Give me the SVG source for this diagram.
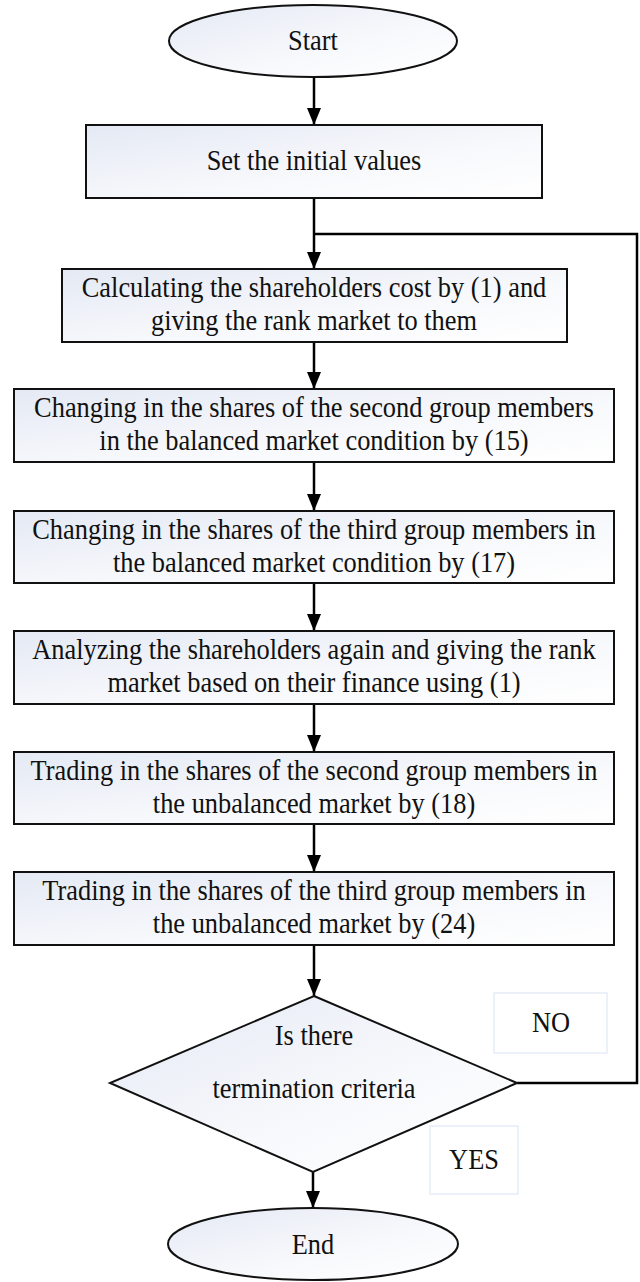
<svg xmlns="http://www.w3.org/2000/svg" width="640" height="1282" viewBox="0 0 640 1282">
  <style>
    .shape { fill: url(#shade); stroke: #111; stroke-width: 2; }
    .label { fill: #fff; stroke: #e6edf8; stroke-width: 1.5; }
    .txt { font-family: "Liberation Serif", "Times New Roman", serif; font-size: 29px; fill: #111; text-anchor: middle; }
    .wire { fill: none; stroke: #000; stroke-width: 2.5; }
    .wire.arrow { marker-end: url(#head); }
  </style>
  <defs>
    <linearGradient id="shade" x1="0" y1="0" x2="1" y2="1">
      <stop offset="0" stop-color="#e4e9f4"/>
      <stop offset="0.6" stop-color="#f8f9fc"/>
      <stop offset="1" stop-color="#ffffff"/>
    </linearGradient>
    <marker id="head" viewBox="0 -7 17 14" refX="17" refY="0" markerWidth="17" markerHeight="14" markerUnits="userSpaceOnUse" orient="auto">
      <path d="M0,-7 L17,0 L0,7 z" fill="#000"/>
    </marker>
  </defs>

  <rect width="640" height="1282" fill="#fff"/>

  <!-- connectors -->
  <g id="connectors">
    <line class="wire arrow" x1="314" y1="77" x2="314" y2="125"/>
    <line class="wire arrow" x1="314" y1="198" x2="314" y2="269"/>
    <line class="wire arrow" x1="314" y1="342" x2="314" y2="389"/>
    <line class="wire arrow" x1="314" y1="462" x2="314" y2="511"/>
    <line class="wire arrow" x1="314" y1="583" x2="314" y2="631"/>
    <line class="wire arrow" x1="314" y1="704" x2="314" y2="752"/>
    <line class="wire arrow" x1="314" y1="824" x2="314" y2="872"/>
    <line class="wire arrow" x1="314" y1="945" x2="314" y2="996"/>
    <line class="wire arrow" x1="313" y1="1172" x2="313" y2="1208"/>
    <!-- NO branch loops back above the cost step -->
    <polyline class="wire" points="517,1083 637,1083 637,234 314,234"/>
  </g>

  <!-- text is set in a slightly condensed serif: scale(0.91 1) -->
  <g id="start">
    <ellipse class="shape" cx="313" cy="41" rx="144" ry="36"/>
    <text class="txt" transform="translate(313 50) scale(0.91 1)">Start</text>
  </g>

  <g id="init">
    <rect class="shape" x="86" y="125" width="456" height="73"/>
    <text class="txt" transform="translate(314 170) scale(0.91 1)">Set the initial values</text>
  </g>

  <g id="cost">
    <rect class="shape" x="62" y="269" width="505" height="73"/>
    <text class="txt" transform="translate(314 297) scale(0.91 1)">Calculating the shareholders cost by (1) and</text>
    <text class="txt" transform="translate(314 330) scale(0.91 1)">giving the rank market to them</text>
  </g>

  <g id="balanced-second">
    <rect class="shape" x="14" y="389" width="600" height="73"/>
    <text class="txt" transform="translate(314 417) scale(0.91 1)">Changing in the shares of the second group members</text>
    <text class="txt" transform="translate(314 450) scale(0.91 1)">in the balanced market condition by (15)</text>
  </g>

  <g id="balanced-third">
    <rect class="shape" x="14" y="511" width="600" height="72"/>
    <text class="txt" transform="translate(314 539) scale(0.91 1)">Changing in the shares of the third group members in</text>
    <text class="txt" transform="translate(314 572) scale(0.91 1)">the balanced market condition by (17)</text>
  </g>

  <g id="rerank">
    <rect class="shape" x="14" y="631" width="600" height="73"/>
    <text class="txt" transform="translate(314 659) scale(0.91 1)">Analyzing the shareholders again and giving the rank</text>
    <text class="txt" transform="translate(314 692) scale(0.91 1)">market based on their finance using (1)</text>
  </g>

  <g id="unbalanced-second">
    <rect class="shape" x="14" y="752" width="600" height="72"/>
    <text class="txt" transform="translate(314 780) scale(0.91 1)">Trading in the shares of the second group members in</text>
    <text class="txt" transform="translate(314 813) scale(0.91 1)">the unbalanced market by (18)</text>
  </g>

  <g id="unbalanced-third">
    <rect class="shape" x="14" y="872" width="600" height="73"/>
    <text class="txt" transform="translate(314 900) scale(0.91 1)">Trading in the shares of the third group members in</text>
    <text class="txt" transform="translate(314 933) scale(0.91 1)">the unbalanced market by (24)</text>
  </g>

  <g id="check">
    <polygon class="shape" points="314,996 517,1083 313,1172 110,1083"/>
    <text class="txt" transform="translate(314 1045) scale(0.91 1)">Is there</text>
    <text class="txt" transform="translate(314 1098) scale(0.91 1)">termination criteria</text>
  </g>

  <g id="no-label">
    <rect class="label" x="494" y="993" width="113" height="60"/>
    <text class="txt" transform="translate(551 1032) scale(0.91 1)">NO</text>
  </g>

  <g id="yes-label">
    <rect class="label" x="430" y="1126" width="88" height="68"/>
    <text class="txt" transform="translate(474 1169) scale(0.91 1)">YES</text>
  </g>

  <g id="end">
    <ellipse class="shape" cx="313" cy="1244" rx="145" ry="36"/>
    <text class="txt" transform="translate(313 1254) scale(0.91 1)">End</text>
  </g>
</svg>
